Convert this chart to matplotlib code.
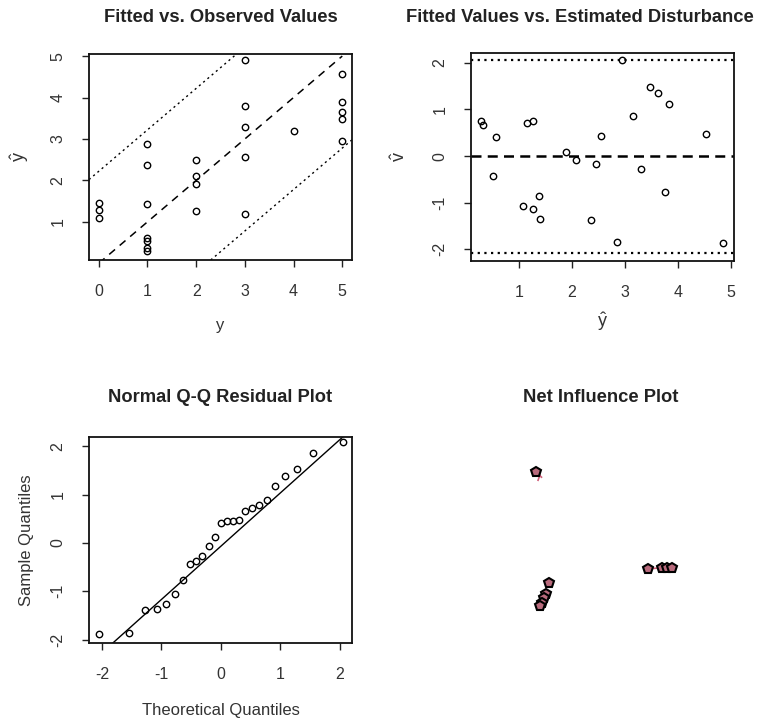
import matplotlib
matplotlib.use("Agg")
import matplotlib.pyplot as plt
import numpy as np

plt.rcParams['font.family'] = ['Liberation Sans', 'DejaVu Sans']
plt.rcParams['mathtext.fontset'] = 'custom'
plt.rcParams['mathtext.rm'] = 'Liberation Sans'
plt.rcParams['mathtext.it'] = 'Liberation Sans'
plt.rcParams['axes.unicode_minus'] = False

# --- Daten: Fitted vs. Observed ---
obs_y = [0, 0, 0,
         1, 1, 1, 1, 1, 1, 1,
         2, 2, 2, 2,
         3, 3, 3, 3, 3,
         4,
         5, 5, 5, 5, 5]
fit_y = [1.45, 1.28, 1.10,
         2.88, 2.38, 1.43, 0.61, 0.54, 0.37, 0.29,
         2.49, 2.11, 1.91, 1.27,
         4.90, 3.79, 3.29, 2.57, 1.19,
         3.19,
         4.57, 3.88, 3.66, 3.49, 2.96]
band_offset = 2.22

# --- Daten: Fitted vs. Estimated Disturbance ---
fit_hat = [0.27, 0.31, 0.57, 0.50, 1.14, 1.26, 1.08, 1.26, 1.37, 1.40,
           1.88, 2.07, 2.46, 2.55, 2.35, 2.85, 2.94, 3.15, 3.30, 3.48,
           3.63, 3.75, 3.84, 4.53, 4.86]
dist_hat = [0.76, 0.67, 0.41, -0.42, 0.71, 0.75, -1.06, -1.13, -0.86, -1.35,
            0.09, -0.08, -0.18, 0.43, -1.38, -1.85, 2.05, 0.85, -0.28, 1.49,
            1.35, -0.76, 1.12, 0.47, -1.86]
dist_bound = 2.07

# --- Daten: Normal Q-Q ---
theo_q = [-2.05, -1.55, -1.28, -1.08, -0.92, -0.77, -0.64, -0.52, -0.41,
          -0.31, -0.20, -0.10, 0.00, 0.10, 0.20, 0.31, 0.41, 0.52, 0.64,
          0.77, 0.92, 1.08, 1.28, 1.55, 2.05]
sample_q = [-1.89, -1.86, -1.39, -1.37, -1.26, -1.06, -0.77, -0.43, -0.38,
            -0.27, -0.07, 0.13, 0.41, 0.46, 0.46, 0.47, 0.67, 0.73, 0.79,
            0.89, 1.17, 1.39, 1.53, 1.86, 2.09]
qq_intercept = -0.07
qq_slope = 1.10

# --- Daten: Net Influence (ohne Achsen) ---
infl_x = [0.247, 0.297, 0.285, 0.278, 0.270, 0.262, 0.673, 0.726, 0.745, 0.764]
infl_y = [0.830, 0.291, 0.238, 0.218, 0.194, 0.180, 0.359, 0.364, 0.364, 0.364]
infl_seg_x = [[0.247, 0.268], [0.262, 0.255], [0.690, 0.718]]
infl_seg_y = [[0.830, 0.805], [0.815, 0.790], [0.362, 0.364]]

TXT = '#333333'
fig = plt.figure(figsize=(7.75, 7.21), dpi=100)
W, H = 775, 721


def box(x0, x1, y0, y1):
    return [x0 / W, 1 - y1 / H, (x1 - x0) / W, (y1 - y0) / H]


def style(ax):
    for s in ax.spines.values():
        s.set_linewidth(1.3)
        s.set_color('#111111')
    ax.tick_params(direction='out', length=5, width=1, colors='#222222',
                   labelsize=11.5, labelcolor=TXT, pad=12)
    for lab in ax.get_yticklabels():
        lab.set_rotation(90)
        lab.set_va('center')


def circles(ax, x, y):
    ax.plot(x, y, 'o', ms=4.6, mfc='none', mec='black', mew=1.0, ls='none')


ax_h = 206
ax1 = fig.add_axes(box(89, 352, 54, 260))
ax2 = fig.add_axes(box(471, 734, 53, 261))
ax3 = fig.add_axes(box(89, 352, 437, 643))
ax4 = fig.add_axes(box(471, 734, 437, 643))

# Panel 1
circles(ax1, obs_y, fit_y)
ax1.plot([0, 5], [0, 5], color='black', lw=1.1, dashes=(5, 4))
ax1.axline((0, band_offset), slope=1, color='black', lw=1.0, dashes=(1.5, 2.5))
ax1.axline((0, -band_offset), slope=1, color='black', lw=1.0, dashes=(1.5, 2.5))
ax1.set_xlim(-0.2, 5.2)
ax1.set_ylim(0.08, 5.05)
ax1.set_xticks([0, 1, 2, 3, 4, 5])
ax1.set_yticks([1, 2, 3, 4, 5])
style(ax1)
ax1.set_xlabel('y', fontsize=12, color=TXT, va='center')
ax1.xaxis.set_label_coords(0.5, -65 / ax_h)
ax1.set_ylabel(r'$\hat{y}$', fontsize=13, color=TXT, va='center')
ax1.yaxis.set_label_coords(-69 / 263, 0.5)

# Panel 2
circles(ax2, fit_hat, dist_hat)
ax2.axhline(0, color='black', lw=1.8, dashes=(4, 2.5))
ax2.axhline(dist_bound, color='black', lw=1.6, dashes=(1, 2))
ax2.axhline(-dist_bound, color='black', lw=1.6, dashes=(1, 2))
ax2.set_xlim(0.09, 5.06)
ax2.set_ylim(-2.25, 2.21)
ax2.set_xticks([1, 2, 3, 4, 5])
ax2.set_yticks([-2, -1, 0, 1, 2])
style(ax2)
ax2.set_xlabel(r'$\hat{y}$', fontsize=13, color=TXT, va='center')
ax2.xaxis.set_label_coords(0.5, -61 / 208)
ax2.set_ylabel(r'$\hat{v}$', fontsize=13, color=TXT, va='center')
ax2.yaxis.set_label_coords(-71 / 263, 0.5)

# Panel 3
circles(ax3, theo_q, sample_q)
ax3.axline((0, qq_intercept), slope=qq_slope, color='black', lw=1.0)
ax3.set_xlim(-2.22, 2.21)
ax3.set_ylim(-2.07, 2.19)
ax3.set_xticks([-2, -1, 0, 1, 2])
ax3.set_yticks([-2, -1, 0, 1, 2])
style(ax3)
ax3.set_xlabel('Theoretical Quantiles', fontsize=12, color=TXT, va='center')
ax3.xaxis.set_label_coords(0.5, -67 / ax_h)
ax3.set_ylabel('Sample Quantiles', fontsize=12, color=TXT, va='center')
ax3.yaxis.set_label_coords(-62 / 263, 0.5)

# Panel 4
for sx, sy in zip(infl_seg_x, infl_seg_y):
    ax4.plot(sx, sy, color='#d0607a', lw=1.2)
ax4.plot(infl_x, infl_y, 'p', ms=7, mfc='#b86a7c', mec='black', mew=1.5, ls='none')
ax4.set_xlim(0, 1)
ax4.set_ylim(0, 1)
ax4.axis('off')

# Titel
title_kw = dict(fontsize=13.2, fontweight='bold', color='#222222',
                ha='center', va='center')
fig.text(220.5 / W, 1 - 17.5 / H, 'Fitted vs. Observed Values', **title_kw)
fig.text(580 / W, 1 - 17.5 / H, 'Fitted Values vs. Estimated Disturbance', **title_kw)
fig.text(220 / W, 1 - 398 / H, 'Normal Q-Q Residual Plot', **title_kw)
fig.text(601 / W, 1 - 398 / H, 'Net Influence Plot', **title_kw)

fig.savefig('out.png', dpi=100, facecolor='white')
